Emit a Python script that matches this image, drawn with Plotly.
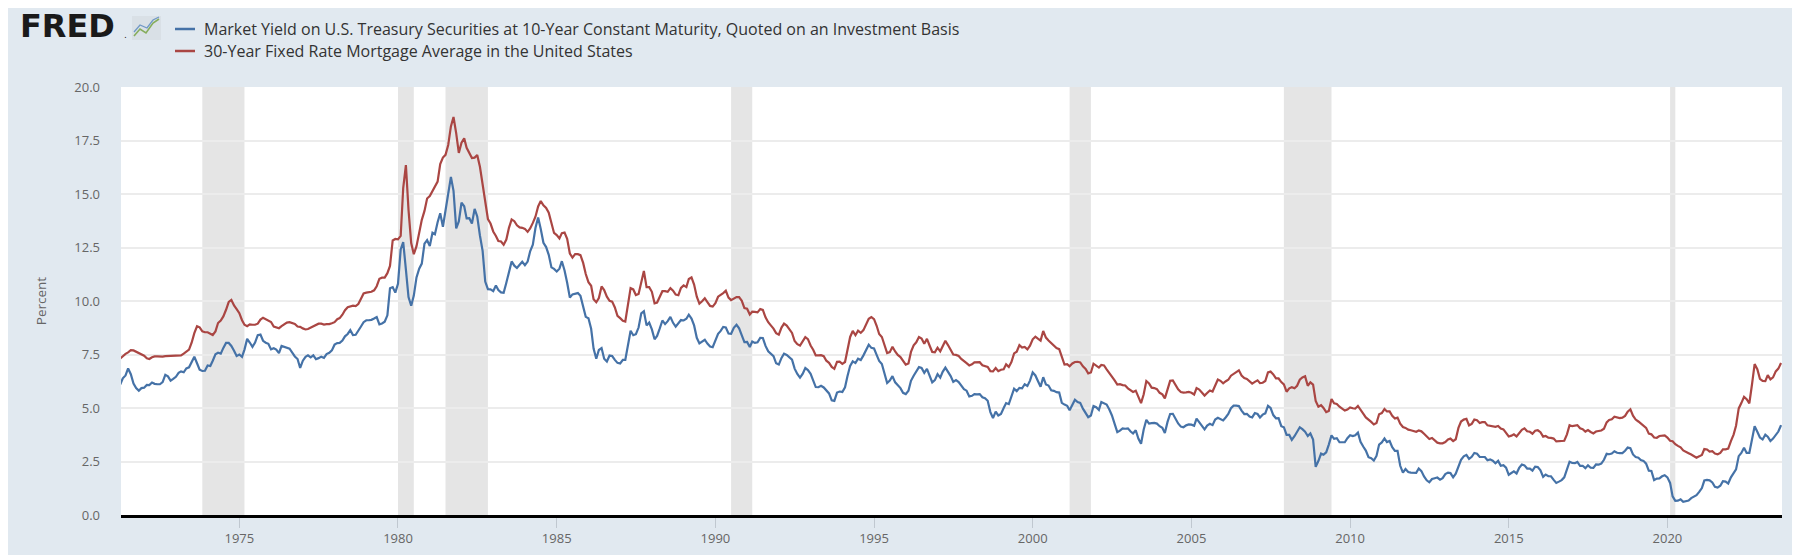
import pandas as pd
import plotly.graph_objects as go

# ---------------- data (monthly, starting April 1971) ----------------
start_month = "1971-04-01"

treasury_10y = [
    6.10, 6.39, 6.52, 6.85, 6.58, 6.14, 5.93, 5.81, 5.93,                      # 1971 Apr-Dec
    5.95, 6.08, 6.07, 6.19, 6.13, 6.11, 6.11, 6.21, 6.55, 6.48, 6.28, 6.36,    # 1972
    6.46, 6.64, 6.71, 6.67, 6.85, 6.90, 7.13, 7.40, 7.09, 6.79, 6.73, 6.74,    # 1973
    6.99, 6.96, 7.21, 7.51, 7.58, 7.54, 7.81, 8.04, 8.04, 7.90, 7.68, 7.43,    # 1974
    7.50, 7.39, 7.73, 8.23, 8.06, 7.86, 8.06, 8.40, 8.43, 8.14, 8.05, 8.00,    # 1975
    7.74, 7.79, 7.73, 7.56, 7.90, 7.86, 7.83, 7.77, 7.59, 7.41, 7.29, 6.87,    # 1976
    7.21, 7.39, 7.46, 7.37, 7.46, 7.28, 7.33, 7.40, 7.34, 7.52, 7.58, 7.69,    # 1977
    7.96, 8.03, 8.04, 8.15, 8.35, 8.46, 8.64, 8.41, 8.42, 8.64, 8.81, 9.01,    # 1978
    9.10, 9.10, 9.12, 9.18, 9.25, 8.91, 8.95, 9.03, 9.33, 10.60, 10.65, 10.39, # 1979
    10.80, 12.41, 12.75, 11.47, 10.18, 9.78, 10.25, 11.10, 11.51, 11.75, 12.68, 12.84,  # 1980
    12.57, 13.19, 13.12, 13.68, 14.10, 13.47, 14.28, 14.94, 15.80, 15.15, 13.39, 13.72, # 1981
    14.59, 14.43, 13.86, 13.87, 13.62, 14.30, 13.95, 13.06, 12.34, 10.91, 10.55, 10.54, # 1982
    10.46, 10.72, 10.51, 10.40, 10.38, 10.85, 11.38, 11.85, 11.65, 11.54, 11.69, 11.83, # 1983
    11.67, 11.84, 12.32, 12.63, 13.41, 13.90, 13.36, 12.72, 12.52, 12.16, 11.57, 11.50, # 1984
    11.38, 11.51, 11.86, 11.43, 10.85, 10.16, 10.31, 10.33, 10.37, 10.24, 9.78, 9.26,   # 1985
    9.19, 8.70, 7.78, 7.30, 7.71, 7.80, 7.30, 7.17, 7.45, 7.43, 7.25, 7.11,    # 1986
    7.08, 7.25, 7.25, 8.02, 8.61, 8.40, 8.45, 8.76, 9.42, 9.52, 8.86, 8.99,    # 1987
    8.67, 8.21, 8.37, 8.72, 9.09, 8.92, 9.06, 9.26, 8.98, 8.80, 8.96, 9.11,    # 1988
    9.09, 9.17, 9.36, 9.18, 8.86, 8.28, 8.02, 8.11, 8.19, 8.01, 7.87, 7.84,    # 1989
    8.21, 8.47, 8.59, 8.79, 8.76, 8.48, 8.47, 8.75, 8.89, 8.72, 8.39, 8.08,    # 1990
    8.09, 7.85, 8.11, 8.04, 8.07, 8.28, 8.27, 7.90, 7.65, 7.53, 7.42, 7.09,    # 1991
    7.03, 7.34, 7.54, 7.48, 7.39, 7.26, 6.84, 6.59, 6.42, 6.59, 6.87, 6.77,    # 1992
    6.60, 6.26, 5.98, 5.97, 6.04, 5.96, 5.81, 5.68, 5.36, 5.33, 5.72, 5.77,    # 1993
    5.75, 5.97, 6.48, 6.97, 7.18, 7.10, 7.30, 7.24, 7.46, 7.74, 7.96, 7.81,    # 1994
    7.78, 7.47, 7.20, 7.06, 6.63, 6.17, 6.28, 6.49, 6.20, 6.04, 5.93, 5.71,    # 1995
    5.65, 5.81, 6.27, 6.51, 6.74, 6.91, 6.87, 6.64, 6.83, 6.53, 6.20, 6.30,    # 1996
    6.58, 6.42, 6.69, 6.89, 6.71, 6.49, 6.22, 6.30, 6.21, 6.03, 5.88, 5.81,    # 1997
    5.54, 5.57, 5.65, 5.64, 5.65, 5.50, 5.46, 5.34, 4.81, 4.53, 4.83, 4.65,    # 1998
    4.72, 5.00, 5.23, 5.18, 5.54, 5.90, 5.79, 5.94, 5.92, 6.11, 6.03, 6.28,    # 1999
    6.66, 6.52, 6.26, 5.99, 6.44, 6.10, 6.05, 5.83, 5.80, 5.74, 5.72, 5.24,    # 2000
    5.16, 5.10, 4.89, 5.14, 5.39, 5.28, 5.24, 4.97, 4.73, 4.57, 4.65, 5.09,    # 2001
    5.04, 4.91, 5.28, 5.21, 5.16, 4.93, 4.65, 4.26, 3.87, 3.94, 4.05, 4.03,    # 2002
    4.05, 3.90, 3.81, 3.96, 3.57, 3.33, 3.98, 4.45, 4.27, 4.29, 4.30, 4.27,    # 2003
    4.15, 4.08, 3.83, 4.35, 4.72, 4.73, 4.50, 4.28, 4.13, 4.10, 4.19, 4.23,    # 2004
    4.22, 4.17, 4.50, 4.34, 4.14, 4.00, 4.18, 4.26, 4.20, 4.46, 4.54, 4.47,    # 2005
    4.42, 4.57, 4.72, 4.99, 5.11, 5.11, 5.09, 4.88, 4.72, 4.73, 4.60, 4.56,    # 2006
    4.76, 4.72, 4.56, 4.69, 4.75, 5.10, 5.00, 4.67, 4.52, 4.53, 4.15, 4.10,    # 2007
    3.74, 3.74, 3.51, 3.68, 3.88, 4.10, 4.01, 3.89, 3.69, 3.81, 3.53, 2.25,    # 2008
    2.52, 2.87, 2.82, 2.93, 3.29, 3.72, 3.56, 3.59, 3.40, 3.39, 3.40, 3.59,    # 2009
    3.73, 3.69, 3.73, 3.85, 3.42, 3.20, 3.01, 2.70, 2.65, 2.54, 2.76, 3.29,    # 2010
    3.39, 3.58, 3.41, 3.46, 3.17, 3.00, 3.00, 2.30, 1.98, 2.15, 2.01, 1.98,    # 2011
    1.97, 1.97, 2.17, 2.05, 1.80, 1.62, 1.53, 1.68, 1.72, 1.75, 1.65, 1.72,    # 2012
    1.91, 1.98, 1.96, 1.76, 1.93, 2.30, 2.58, 2.74, 2.81, 2.62, 2.72, 2.90,    # 2013
    2.86, 2.71, 2.72, 2.71, 2.56, 2.60, 2.54, 2.42, 2.53, 2.30, 2.33, 2.21,    # 2014
    1.88, 1.98, 2.04, 1.94, 2.20, 2.36, 2.32, 2.17, 2.17, 2.07, 2.26, 2.24,    # 2015
    2.09, 1.78, 1.89, 1.81, 1.81, 1.64, 1.50, 1.56, 1.63, 1.76, 2.14, 2.49,    # 2016
    2.43, 2.42, 2.48, 2.30, 2.30, 2.19, 2.32, 2.21, 2.20, 2.36, 2.35, 2.40,    # 2017
    2.58, 2.86, 2.84, 2.87, 2.98, 2.91, 2.89, 2.89, 3.00, 3.15, 3.12, 2.83,    # 2018
    2.71, 2.68, 2.57, 2.53, 2.40, 2.07, 2.06, 1.63, 1.70, 1.71, 1.81, 1.86,    # 2019
    1.76, 1.50, 0.87, 0.66, 0.67, 0.73, 0.62, 0.65, 0.68, 0.79, 0.87, 0.93,    # 2020
    1.08, 1.26, 1.61, 1.64, 1.62, 1.52, 1.32, 1.28, 1.37, 1.58, 1.56, 1.47,    # 2021
    1.76, 1.93, 2.13, 2.75, 2.90, 3.14, 2.90, 2.90, 3.52, 4.15, 3.89, 3.62,    # 2022
    3.53, 3.75, 3.66, 3.46, 3.57, 3.75, 3.90, 4.20,                            # 2023 Jan-Aug
]

mortgage_30y = [
    7.31, 7.43, 7.53, 7.60, 7.70, 7.69, 7.63, 7.55, 7.48,                      # 1971 Apr-Dec
    7.44, 7.32, 7.29, 7.37, 7.41, 7.41, 7.40, 7.40, 7.42, 7.43, 7.44, 7.44,    # 1972
    7.44, 7.44, 7.46, 7.54, 7.65, 7.73, 8.05, 8.50, 8.82, 8.77, 8.58, 8.54,    # 1973
    8.54, 8.46, 8.41, 8.58, 8.97, 9.09, 9.28, 9.59, 9.96, 10.05, 9.79, 9.62,   # 1974
    9.43, 9.10, 8.89, 8.82, 8.91, 8.89, 8.89, 8.94, 9.13, 9.22, 9.15, 9.10,    # 1975
    9.02, 8.81, 8.76, 8.73, 8.83, 8.92, 8.99, 9.01, 8.97, 8.93, 8.81, 8.79,    # 1976
    8.72, 8.67, 8.69, 8.75, 8.83, 8.86, 8.94, 8.94, 8.90, 8.92, 8.92, 8.96,    # 1977
    9.01, 9.15, 9.20, 9.36, 9.57, 9.71, 9.74, 9.78, 9.76, 9.86, 10.11, 10.35,  # 1978
    10.39, 10.41, 10.43, 10.50, 10.69, 11.04, 11.09, 11.09, 11.30, 11.64, 12.83, 12.90, # 1979
    12.88, 13.04, 15.28, 16.35, 14.26, 12.71, 12.19, 12.56, 13.20, 13.79, 14.21, 14.79, # 1980
    14.90, 15.13, 15.40, 15.58, 16.40, 16.70, 16.83, 17.29, 18.16, 18.60, 17.83, 16.92, # 1981
    17.40, 17.60, 17.16, 16.89, 16.68, 16.70, 16.82, 16.27, 15.43, 14.61, 13.83, 13.62, # 1982
    13.25, 13.04, 12.80, 12.78, 12.63, 12.87, 13.42, 13.81, 13.73, 13.54, 13.44, 13.42, # 1983
    13.37, 13.23, 13.39, 13.65, 13.94, 14.42, 14.67, 14.47, 14.35, 14.13, 13.64, 13.18, # 1984
    13.08, 12.92, 13.17, 13.20, 12.91, 12.22, 12.03, 12.19, 12.19, 12.14, 11.78, 11.26, # 1985
    10.88, 10.71, 10.08, 9.94, 10.14, 10.68, 10.51, 10.20, 10.01, 9.97, 9.70, 9.31,     # 1986
    9.20, 9.08, 9.04, 9.83, 10.60, 10.54, 10.28, 10.33, 10.89, 11.40, 10.65, 10.65,     # 1987
    10.43, 9.89, 9.93, 10.20, 10.46, 10.46, 10.43, 10.60, 10.48, 10.30, 10.27, 10.61,   # 1988
    10.73, 10.65, 11.03, 11.10, 10.77, 10.20, 9.88, 9.99, 10.13, 9.95, 9.77, 9.74,      # 1989
    9.90, 10.20, 10.27, 10.37, 10.48, 10.16, 10.04, 10.10, 10.18, 10.18, 10.01, 9.67,   # 1990
    9.64, 9.37, 9.50, 9.49, 9.47, 9.62, 9.58, 9.24, 9.01, 8.86, 8.71, 8.50,    # 1991
    8.43, 8.76, 8.94, 8.85, 8.67, 8.51, 8.13, 7.98, 7.92, 8.09, 8.31, 8.22,    # 1992
    7.92, 7.71, 7.46, 7.46, 7.47, 7.42, 7.21, 7.11, 6.92, 6.83, 7.16, 7.17,    # 1993
    7.06, 7.15, 7.68, 8.32, 8.60, 8.40, 8.61, 8.51, 8.64, 8.93, 9.17, 9.25,    # 1994
    9.15, 8.83, 8.46, 8.32, 7.96, 7.57, 7.61, 7.86, 7.64, 7.48, 7.38, 7.20,    # 1995
    7.03, 7.08, 7.62, 7.93, 8.07, 8.32, 8.25, 8.00, 8.23, 7.92, 7.62, 7.60,    # 1996
    7.82, 7.65, 7.90, 8.14, 7.94, 7.69, 7.50, 7.48, 7.43, 7.29, 7.21, 7.10,    # 1997
    6.99, 7.04, 7.13, 7.14, 7.14, 7.00, 6.95, 6.92, 6.72, 6.71, 6.87, 6.72,    # 1998
    6.79, 6.81, 7.04, 6.92, 7.15, 7.55, 7.63, 7.94, 7.82, 7.85, 7.74, 7.91,    # 1999
    8.21, 8.33, 8.24, 8.15, 8.60, 8.29, 8.15, 8.03, 7.91, 7.80, 7.75, 7.38,    # 2000
    7.03, 7.05, 6.95, 7.08, 7.15, 7.16, 7.13, 6.95, 6.82, 6.62, 6.66, 7.07,    # 2001
    7.00, 6.89, 7.01, 6.99, 6.81, 6.65, 6.49, 6.29, 6.09, 6.11, 6.07, 6.05,    # 2002
    5.92, 5.84, 5.75, 5.81, 5.48, 5.23, 5.63, 6.26, 6.15, 5.95, 5.93, 5.88,    # 2003
    5.71, 5.64, 5.45, 5.83, 6.27, 6.29, 6.06, 5.87, 5.75, 5.72, 5.73, 5.75,    # 2004
    5.71, 5.63, 5.93, 5.86, 5.72, 5.58, 5.70, 5.82, 5.77, 6.07, 6.33, 6.27,    # 2005
    6.15, 6.25, 6.32, 6.51, 6.60, 6.68, 6.76, 6.52, 6.40, 6.36, 6.24, 6.14,    # 2006
    6.22, 6.29, 6.16, 6.18, 6.26, 6.66, 6.70, 6.57, 6.38, 6.38, 6.21, 6.10,    # 2007
    5.76, 5.92, 5.97, 5.92, 6.04, 6.32, 6.43, 6.48, 6.04, 6.20, 6.09, 5.33,    # 2008
    5.06, 5.13, 5.00, 4.81, 4.86, 5.42, 5.22, 5.19, 5.06, 4.95, 4.88, 4.93,    # 2009
    5.03, 4.99, 4.97, 5.10, 4.89, 4.74, 4.56, 4.43, 4.35, 4.23, 4.30, 4.71,    # 2010
    4.76, 4.95, 4.84, 4.84, 4.64, 4.51, 4.55, 4.27, 4.11, 4.07, 3.99, 3.96,    # 2011
    3.92, 3.89, 3.95, 3.91, 3.80, 3.68, 3.55, 3.60, 3.50, 3.38, 3.35, 3.35,    # 2012
    3.41, 3.53, 3.57, 3.45, 3.54, 4.07, 4.37, 4.46, 4.49, 4.19, 4.26, 4.46,    # 2013
    4.43, 4.30, 4.34, 4.34, 4.19, 4.16, 4.13, 4.12, 4.16, 4.04, 4.00, 3.86,    # 2014
    3.67, 3.71, 3.77, 3.67, 3.84, 3.98, 4.05, 3.91, 3.89, 3.80, 3.94, 3.96,    # 2015
    3.87, 3.66, 3.69, 3.61, 3.60, 3.57, 3.44, 3.44, 3.46, 3.47, 3.77, 4.20,    # 2016
    4.15, 4.17, 4.20, 4.05, 4.01, 3.90, 3.97, 3.88, 3.81, 3.90, 3.92, 3.95,    # 2017
    4.03, 4.33, 4.44, 4.47, 4.59, 4.57, 4.53, 4.55, 4.63, 4.83, 4.94, 4.64,    # 2018
    4.46, 4.37, 4.27, 4.14, 4.07, 3.80, 3.77, 3.62, 3.61, 3.69, 3.70, 3.72,    # 2019
    3.62, 3.47, 3.45, 3.31, 3.23, 3.16, 3.02, 2.94, 2.89, 2.83, 2.77, 2.68,    # 2020
    2.74, 2.81, 3.08, 3.06, 2.96, 2.98, 2.87, 2.84, 2.90, 3.07, 3.07, 3.10,    # 2021
    3.45, 3.76, 4.17, 4.98, 5.23, 5.52, 5.41, 5.22, 6.11, 7.05, 6.81, 6.36,    # 2022
    6.27, 6.26, 6.54, 6.34, 6.43, 6.71, 6.84, 7.10,                            # 2023 Jan-Aug
]

recession_starts = ["1973-11-01", "1980-01-01", "1981-07-01", "1990-07-01", "2001-03-01", "2007-12-01", "2020-02-01"]
recession_ends   = ["1975-03-01", "1980-07-01", "1982-11-01", "1991-03-01", "2001-11-01", "2009-06-01", "2020-04-01"]

series_names = [
    "Market Yield on U.S. Treasury Securities at 10-Year Constant Maturity, Quoted on an Investment Basis",
    "30-Year Fixed Rate Mortgage Average in the United States",
]
series_colors = ["#4572A7", "#AA4643"]

y_ticks = [0.0, 2.5, 5.0, 7.5, 10.0, 12.5, 15.0, 17.5, 20.0]
x_tick_years = [1975, 1980, 1985, 1990, 1995, 2000, 2005, 2010, 2015, 2020]

# ---------------- figure ----------------
dates_t = pd.date_range(start_month, periods=len(treasury_10y), freq="MS")
dates_m = pd.date_range(start_month, periods=len(mortgage_30y), freq="MS")

W, H = 1800, 555
ML, MR, MT, MB = 113, 26, 79, 48
pw, ph = W - ML - MR, H - MT - MB

def px_x(p):
    return (p - ML) / pw

def px_y(p):
    return (H - MB - p) / ph

fig = go.Figure()

for s, e in zip(recession_starts, recession_ends):
    fig.add_vrect(x0=s, x1=e, fillcolor="#e5e5e5", line_width=0, layer="below")

fig.add_trace(go.Scatter(x=dates_t, y=treasury_10y, mode="lines", name=series_names[0],
                         line=dict(color=series_colors[0], width=2.2), showlegend=False))
fig.add_trace(go.Scatter(x=dates_m, y=mortgage_30y, mode="lines", name=series_names[1],
                         line=dict(color=series_colors[1], width=2.2), showlegend=False))

# legend (manual, FRED style)
font_main = "Open Sans, Noto Sans, sans-serif"
for i, (nm, col) in enumerate(zip(series_names, series_colors)):
    ypix = 21 + i * 22
    fig.add_shape(type="line", xref="paper", yref="paper",
                  x0=px_x(167), x1=px_x(187), y0=px_y(ypix), y1=px_y(ypix),
                  line=dict(color=col, width=2.5))
    fig.add_annotation(xref="paper", yref="paper", x=px_x(194), y=px_y(ypix),
                       xanchor="left", yanchor="middle", showarrow=False,
                       text=nm, font=dict(family=font_main, size=16, color="#333333"))

# FRED logo
fig.add_annotation(xref="paper", yref="paper", x=px_x(10), y=px_y(18),
                   xanchor="left", yanchor="middle", showarrow=False,
                   text="<b>FRED</b>", font=dict(family="DejaVu Sans, sans-serif", size=32, color="#1a1a1a"))
fig.add_annotation(xref="paper", yref="paper", x=px_x(114), y=px_y(27),
                   xanchor="left", yanchor="middle", showarrow=False,
                   text=".", font=dict(family="DejaVu Sans, sans-serif", size=9, color="#1a1a1a"))
fig.add_shape(type="rect", xref="paper", yref="paper",
              x0=px_x(124), x1=px_x(153), y0=px_y(32), y1=px_y(8),
              fillcolor="#d9e0e6", line=dict(width=0))
fig.add_shape(type="path", xref="paper", yref="paper",
              path="M {:.5f},{:.5f} L {:.5f},{:.5f} L {:.5f},{:.5f} L {:.5f},{:.5f} L {:.5f},{:.5f}".format(
                  px_x(126), px_y(28), px_x(132), px_y(21), px_x(138), px_y(25), px_x(145), px_y(15), px_x(151), px_y(11)),
              line=dict(color="#86ad5c", width=1.6))
fig.add_shape(type="path", xref="paper", yref="paper",
              path="M {:.5f},{:.5f} L {:.5f},{:.5f} L {:.5f},{:.5f} L {:.5f},{:.5f} L {:.5f},{:.5f}".format(
                  px_x(126), px_y(24), px_x(132), px_y(17), px_x(139), px_y(20), px_x(145), px_y(12), px_x(151), px_y(9)),
              line=dict(color="#6f98c6", width=1.3))

tick_font = dict(family=font_main, size=13, color="#666666")

fig.update_layout(
    width=W, height=H,
    margin=dict(l=ML, r=MR, t=MT, b=MB, pad=0),
    paper_bgcolor="#e1e9f0",
    plot_bgcolor="#ffffff",
    showlegend=False,
    xaxis=dict(
        type="date",
        range=["1971-04-10", "2023-08-12"],
        tickvals=[f"{y}-01-01" for y in x_tick_years],
        ticktext=[str(y) for y in x_tick_years],
        showgrid=False, zeroline=False,
        showline=True, linecolor="#000000", linewidth=2.5,
        ticks="outside", ticklen=10, tickcolor="#c0c8d0", tickwidth=1,
        tickfont=tick_font,
    ),
    yaxis=dict(
        range=[0, 20],
        tickvals=y_ticks,
        ticktext=[f"{v:.1f}" for v in y_ticks],
        showgrid=True, gridcolor="#ececec", gridwidth=1.5,
        zeroline=False, showline=False,
        ticks="", ticklabelstandoff=20,
        tickfont=tick_font,
        title=dict(text="Percent", font=dict(family=font_main, size=13.5, color="#666666"), standoff=24),
    ),
)

fig.write_html("out.html")
